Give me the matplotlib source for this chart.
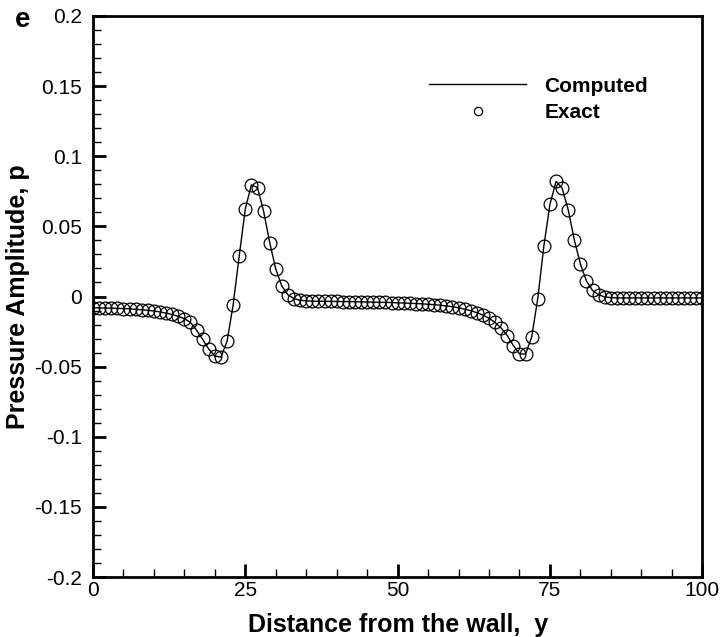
import matplotlib
matplotlib.use("Agg")
import matplotlib.pyplot as plt
from matplotlib.ticker import MultipleLocator, FuncFormatter

plt.rcParams['font.family'] = ['Liberation Sans', 'DejaVu Sans']
plt.rcParams['axes.unicode_minus'] = False

# distance from the wall (y), integer stations 0..100
y_pos = list(range(0, 101))

# exact pressure amplitude (open circles)
p_exact = [
    -0.0080, -0.0081, -0.0082, -0.0083, -0.0084, -0.0086, -0.0088, -0.0091, -0.0094, -0.0098,
    -0.0103, -0.0110, -0.0118, -0.0128, -0.0141, -0.0158, -0.0185, -0.0240, -0.0305, -0.0375,
    -0.0425, -0.0432, -0.0320, -0.0060, 0.0290, 0.0625, 0.0796, 0.0776, 0.0608, 0.0385,
    0.0195, 0.0074, 0.0012, -0.0015, -0.0027, -0.0031, -0.0033, -0.0034, -0.0034, -0.0035,
    -0.0035, -0.0036, -0.0036, -0.0037, -0.0038, -0.0039, -0.0040, -0.0041, -0.0042, -0.0043,
    -0.0045, -0.0046, -0.0048, -0.0050, -0.0052, -0.0055, -0.0058, -0.0062, -0.0067, -0.0073,
    -0.0080, -0.0090, -0.0101, -0.0115, -0.0132, -0.0155, -0.0185, -0.0225, -0.0278, -0.0350,
    -0.0408, -0.0410, -0.0289, -0.0015, 0.0360, 0.0657, 0.0820, 0.0772, 0.0618, 0.0404,
    0.0231, 0.0110, 0.0043, 0.0012, -0.0003, -0.0008, -0.0010, -0.0010, -0.0010, -0.0010,
    -0.0010, -0.0010, -0.0010, -0.0010, -0.0010, -0.0010, -0.0010, -0.0010, -0.0010, -0.0010,
    -0.0010,
]

# computed solution (solid line)
p_computed = list(p_exact)

x_ticks = [0, 25, 50, 75, 100]
y_ticks = [-0.2, -0.15, -0.1, -0.05, 0, 0.05, 0.1, 0.15, 0.2]

fig = plt.figure(figsize=(7.21, 6.37), dpi=100)
ax = fig.add_axes([0.129, 0.094, 0.845, 0.881])

ax.plot(y_pos, p_computed, color='black', lw=1.0, label='Computed', zorder=2)
ax.plot(y_pos, p_exact, linestyle='none', marker='o', markersize=9.2,
        markerfacecolor='none', markeredgecolor='black', markeredgewidth=0.9,
        label='Exact', zorder=3)

ax.set_xlim(0, 100)
ax.set_ylim(-0.2, 0.2)
ax.set_xticks(x_ticks)
ax.set_yticks(y_ticks)
ax.xaxis.set_minor_locator(MultipleLocator(5))
ax.yaxis.set_minor_locator(MultipleLocator(0.01))
ax.yaxis.set_major_formatter(FuncFormatter(lambda v, p: '%g' % round(v, 3)))

for s in ax.spines.values():
    s.set_linewidth(2.0)
ax.tick_params(which='both', direction='in', top=False, right=False)
ax.tick_params(which='major', length=9.5, width=2.0, labelsize=15)
ax.tick_params(which='minor', length=5.5, width=1.0)
ax.tick_params(axis='x', which='major', pad=3)
ax.tick_params(axis='y', which='major', pad=8)

ax.set_xlabel('Distance from the wall,  y', fontsize=18, fontweight='bold', labelpad=9)
ax.set_ylabel('Pressure Amplitude, p', fontsize=18, fontweight='bold', labelpad=3)

leg = ax.legend(loc='upper left', bbox_to_anchor=(0.52, 0.925), frameon=False,
                handlelength=4.7, handletextpad=0.85, labelspacing=0.35,
                markerscale=0.65, prop={'weight': 'bold', 'size': 15})

fig.text(0.021, 0.968, 'e', fontsize=20, fontweight='bold', ha='left', va='center')

fig.savefig('out.png', dpi=100)
